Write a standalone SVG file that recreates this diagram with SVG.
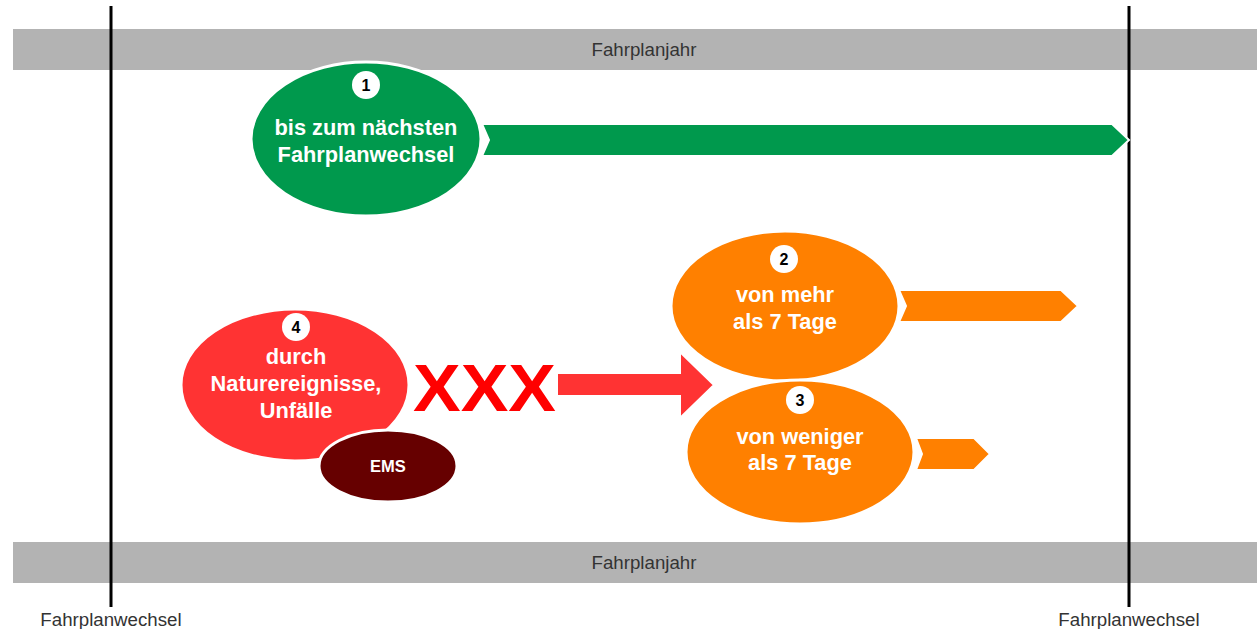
<svg xmlns="http://www.w3.org/2000/svg" width="1257" height="629" viewBox="0 0 1257 629">
<style>
.bar{fill:#B3B3B3}
.bartxt{font-family:"Liberation Sans",Arial,sans-serif;font-size:18.7px;fill:#333333;text-anchor:middle}
.lbl{font-family:"Liberation Sans",Arial,sans-serif;font-size:18.7px;fill:#333333;text-anchor:middle}
.vline{stroke:#000;stroke-width:3}
.ell{stroke:#FFFFFF;stroke-width:3}
.t{font-family:"Liberation Sans",Arial,sans-serif;font-weight:bold;font-size:21.8px;fill:#FFFFFF;text-anchor:middle}
.num{fill:#FFFFFF}
.numt{font-family:"Liberation Sans",Arial,sans-serif;font-weight:bold;font-size:16px;fill:#000;text-anchor:middle}
.arr{stroke:#FFFFFF;stroke-width:2}
</style>
<rect width="1257" height="629" fill="#FFFFFF"/>
<g id="bar-top"><rect class="bar" x="13" y="29" width="1244" height="41"/><text class="bartxt" x="644" y="56">Fahrplanjahr</text></g>
<g id="bar-bottom"><rect class="bar" x="13" y="542" width="1244" height="41"/><text class="bartxt" x="644" y="569">Fahrplanjahr</text></g>
<g id="connectors">
<line class="vline" x1="111" y1="6" x2="111" y2="607"/>
<line class="vline" x1="1129" y1="6" x2="1129" y2="607"/>
<polygon class="arr" fill="#00994D" points="482,124 1112,124 1129,140 1112,156 482,156 489,140"/>
<polygon class="arr" fill="#FF8000" points="899,290 1061,290 1078,306 1061,322 899,322 906,306"/>
<polygon class="arr" fill="#FF8000" points="916,438 974,438 990,454 974,470 916,470 922,454"/>
</g>
<g id="lbl-left"><text class="lbl" x="111" y="626">Fahrplanwechsel</text></g>
<g id="lbl-right"><text class="lbl" x="1129" y="626">Fahrplanwechsel</text></g>
<g id="node1">
<ellipse class="ell" cx="366" cy="139" rx="115" ry="77" fill="#00994D"/>
<circle class="num" cx="366" cy="85" r="14"/><text class="numt" x="366" y="91">1</text>
<text class="t" x="366" y="135">bis zum nächsten</text>
<text class="t" x="366" y="162">Fahrplanwechsel</text>
</g>
<g id="node2">
<ellipse class="ell" cx="785" cy="306" rx="114" ry="75" fill="#FF8000"/>
<circle class="num" cx="784" cy="259" r="14"/><text class="numt" x="784" y="265">2</text>
<text class="t" x="785" y="302">von mehr</text>
<text class="t" x="785" y="329">als 7 Tage</text>
</g>
<g id="node3">
<ellipse class="ell" cx="800" cy="452" rx="114" ry="72" fill="#FF8000"/>
<circle class="num" cx="800" cy="400" r="14"/><text class="numt" x="800" y="406">3</text>
<text class="t" x="800" y="444">von weniger</text>
<text class="t" x="800" y="470">als 7 Tage</text>
</g>
<g id="node4">
<ellipse class="ell" cx="295" cy="385" rx="114" ry="76" fill="#FF3333"/>
<circle class="num" cx="296" cy="327" r="14"/><text class="numt" x="296" y="333">4</text>
<text class="t" x="296" y="364">durch</text>
<text class="t" x="296" y="391">Naturereignisse,</text>
<text class="t" x="296" y="418">Unfälle</text>
</g>
<g id="ems">
<ellipse class="ell" cx="388" cy="466" rx="69" ry="36" fill="#660000"/>
<text class="t" x="388" y="472" style="font-size:16.5px">EMS</text>
</g>
<g id="xxx">
<text x="413" y="411" textLength="143" lengthAdjust="spacingAndGlyphs" style="font-family:'Liberation Sans',Arial,sans-serif;font-weight:bold;font-size:67px;fill:#FF0000">XXX</text>
</g>
<g id="red-arrow">
<polygon class="arr" fill="#FF3333" points="557,373 680,373 680,352 714,385 680,418 680,396 557,396"/>
</g>
</svg>
